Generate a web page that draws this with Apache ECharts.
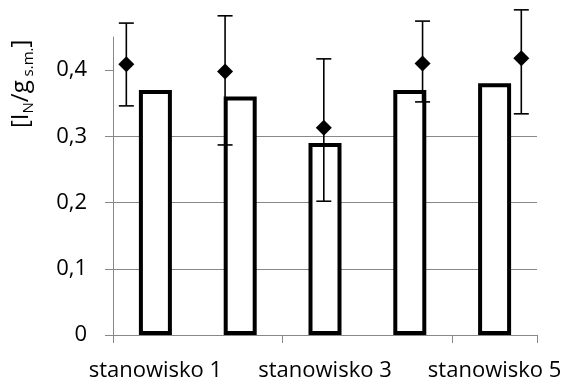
<!DOCTYPE html>
<html><head><meta charset="utf-8">
<script src="https://cdn.jsdelivr.net/npm/echarts@6/dist/echarts.min.js"></script>
<style>html,body{margin:0;padding:0;background:#fff}#c{width:567px;height:382px}</style>
</head><body><div id="c"></div>
<script>
const categories = ['stanowisko 1', 'stanowisko 2', 'stanowisko 3', 'stanowisko 4', 'stanowisko 5'];
const barValues = [0.37, 0.36, 0.29, 0.37, 0.38];
const pointPositions = [1, 2, 3, 4, 5];
const pointValues = [0.409, 0.398, 0.313, 0.410, 0.418];
const errLow = [0.346, 0.287, 0.202, 0.352, 0.334];
const errHigh = [0.471, 0.482, 0.417, 0.474, 0.491];
const yTickValues = [0, 0.1, 0.2, 0.3, 0.4];

const FONT = 'Open Sans';
const fmt = v => v === 0 ? '0' : v.toFixed(1).replace('.', ',');

const chart = echarts.init(document.getElementById('c'), null, {renderer: 'canvas'});
chart.setOption({
  animation: false,
  backgroundColor: '#fff',
  grid: {left: 113, right: 30, top: 37, bottom: 46},
  xAxis: [{
    type: 'category', data: categories,
    axisLine: {lineStyle: {color: '#888', width: 1}},
    axisTick: {show: true, length: 8, lineStyle: {color: '#888'}},
    axisLabel: {interval: 1, color: '#000', fontFamily: FONT, fontSize: 22, margin: 25},
    z: 5
  }, {
    type: 'value', min: 0.865, max: 5.159, show: false
  }],
  yAxis: {
    type: 'value', min: 0, max: 0.45, interval: 0.1,
    axisLine: {show: true, lineStyle: {color: '#888', width: 1}},
    axisTick: {show: true, length: 8, lineStyle: {color: '#888'}, customValues: yTickValues},
    axisLabel: {color: '#000', fontFamily: FONT, fontSize: 22, margin: 26, formatter: fmt, customValues: yTickValues},
    splitLine: {show: true, showMaxLine: false, lineStyle: {color: '#888', width: 1}}
  },
  graphic: [{
    type: 'text', x: 6, y: 128, rotation: Math.PI / 2,
    style: {
      text: '{a|[I}{s|N}{a|/g}{s| s.m.}{a|]}',
      rich: {
        a: {fontFamily: FONT, fontSize: 24, fill: '#000', lineHeight: 30, verticalAlign: 'middle'},
        s: {fontFamily: FONT, fontSize: 15, fill: '#000', lineHeight: 16, verticalAlign: 'bottom'}
      },
      align: 'left', verticalAlign: 'top'
    }
  }],
  series: [{
    type: 'bar', data: barValues, barWidth: 33,
    itemStyle: {color: '#fff', borderColor: '#000', borderWidth: 4},
    z: 2
  }, {
    type: 'custom', xAxisIndex: 1,
    data: pointPositions.map((p, i) => [p, errLow[i], errHigh[i]]),
    renderItem: (params, api) => {
      const lo = api.coord([api.value(0), api.value(1)]);
      const hi = api.coord([api.value(0), api.value(2)]);
      const cap = 7.5;
      const st = {stroke: '#000', lineWidth: 1.6};
      return {type: 'group', children: [
        {type: 'line', shape: {x1: hi[0], y1: hi[1], x2: lo[0], y2: lo[1]}, style: st},
        {type: 'line', shape: {x1: hi[0] - cap, y1: hi[1], x2: hi[0] + cap, y2: hi[1]}, style: st},
        {type: 'line', shape: {x1: lo[0] - cap, y1: lo[1], x2: lo[0] + cap, y2: lo[1]}, style: st}
      ]};
    },
    z: 3
  }, {
    type: 'scatter', xAxisIndex: 1,
    data: pointPositions.map((p, i) => [p, pointValues[i]]),
    symbol: 'diamond', symbolSize: 16,
    itemStyle: {color: '#000', opacity: 1},
    z: 4
  }]
});
</script></body></html>
